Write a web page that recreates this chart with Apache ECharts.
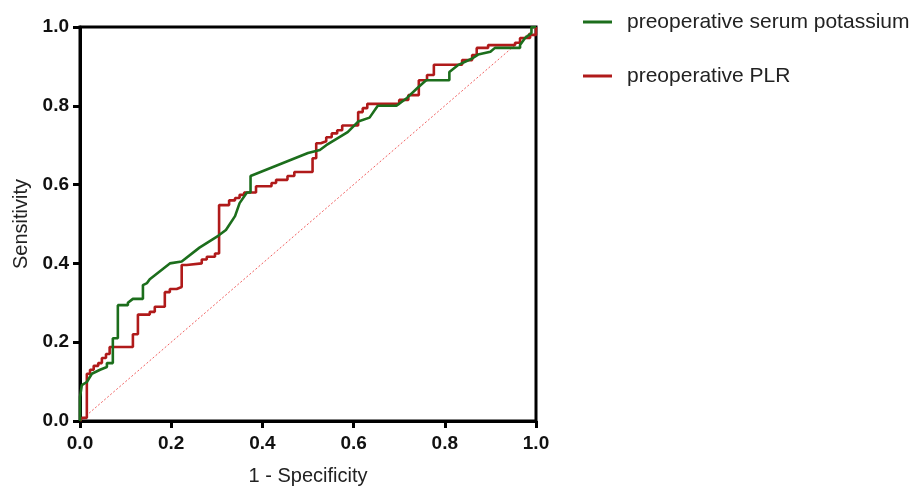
<!DOCTYPE html>
<html>
<head>
<meta charset="utf-8">
<script src="https://cdn.jsdelivr.net/npm/echarts@6/dist/echarts.min.js"></script>
<style>html,body{margin:0;padding:0;background:#fff;}#c{width:919px;height:486px;}</style>
</head>
<body>
<div id="c"></div>
<script>
var xTicks = [0, 0.2, 0.4, 0.6, 0.8, 1.0];
var seriesNames = ['preoperative serum potassium', 'preoperative PLR'];
var potassium = [[0,0],[0,0.061],[0.004,0.061],[0.004,0.091],[0.015,0.099],[0.026,0.12],[0.044,0.13],[0.059,0.137],[0.059,0.147],[0.072,0.147],[0.072,0.21],[0.083,0.21],[0.083,0.294],[0.105,0.294],[0.105,0.30],[0.116,0.31],[0.138,0.31],[0.138,0.345],[0.147,0.35],[0.153,0.36],[0.197,0.40],[0.223,0.405],[0.262,0.44],[0.303,0.47],[0.32,0.485],[0.34,0.52],[0.35,0.553],[0.366,0.58],[0.374,0.58],[0.374,0.622],[0.50,0.68],[0.526,0.688],[0.54,0.70],[0.587,0.733],[0.61,0.76],[0.635,0.77],[0.653,0.80],[0.694,0.80],[0.717,0.82],[0.74,0.845],[0.759,0.865],[0.81,0.865],[0.81,0.886],[0.83,0.904],[0.86,0.92],[0.873,0.93],[0.9,0.937],[0.91,0.947],[0.965,0.947],[0.965,0.954],[0.976,0.972],[0.99,0.985],[0.99,1.0],[1.0,1.0]];
var plr = [[0,0],[0.004,0.008],[0.015,0.008],[0.015,0.12],[0.022,0.12],[0.022,0.13],[0.03,0.13],[0.03,0.14],[0.04,0.14],[0.04,0.147],[0.048,0.147],[0.048,0.16],[0.057,0.16],[0.057,0.17],[0.065,0.17],[0.065,0.188],[0.116,0.188],[0.116,0.22],[0.127,0.22],[0.127,0.27],[0.153,0.27],[0.153,0.277],[0.164,0.277],[0.164,0.29],[0.186,0.29],[0.186,0.327],[0.197,0.327],[0.197,0.335],[0.212,0.335],[0.212,0.34],[0.223,0.34],[0.223,0.396],[0.234,0.396],[0.234,0.40],[0.267,0.40],[0.267,0.41],[0.278,0.41],[0.278,0.417],[0.296,0.417],[0.296,0.425],[0.305,0.425],[0.305,0.548],[0.327,0.548],[0.327,0.56],[0.34,0.56],[0.34,0.566],[0.35,0.566],[0.35,0.574],[0.36,0.574],[0.36,0.58],[0.386,0.58],[0.386,0.596],[0.42,0.596],[0.42,0.604],[0.43,0.604],[0.43,0.612],[0.455,0.612],[0.455,0.622],[0.47,0.622],[0.47,0.632],[0.51,0.632],[0.51,0.667],[0.518,0.667],[0.518,0.705],[0.528,0.705],[0.528,0.71],[0.54,0.71],[0.54,0.72],[0.552,0.72],[0.552,0.73],[0.564,0.73],[0.564,0.738],[0.575,0.738],[0.575,0.75],[0.61,0.75],[0.61,0.784],[0.62,0.784],[0.62,0.794],[0.63,0.794],[0.63,0.805],[0.70,0.805],[0.70,0.815],[0.72,0.815],[0.72,0.827],[0.743,0.827],[0.743,0.865],[0.761,0.865],[0.761,0.878],[0.776,0.878],[0.776,0.904],[0.838,0.904],[0.838,0.916],[0.86,0.916],[0.86,0.929],[0.87,0.929],[0.87,0.947],[0.895,0.947],[0.895,0.954],[0.954,0.954],[0.954,0.96],[0.965,0.96],[0.965,0.972],[0.987,0.972],[0.987,0.98],[1.0,0.98],[1.0,1.0]];
var reference = [[0,0],[1,1]];

var chart = echarts.init(document.getElementById('c'), null, {renderer: 'canvas'});
var FONT = 'Liberation Sans, Arial, sans-serif';
var tickLabelStyle = {color: '#111', fontFamily: FONT, fontWeight: 'bold', fontSize: 19};
chart.setOption({
  animation: false,
  backgroundColor: '#fff',
  grid: {left: 80, right: 383, top: 27, bottom: 65, show: true, borderColor: '#000', borderWidth: 3,
         backgroundColor: 'transparent', containLabel: false, outerBoundsMode: 'none'},
  legend: {
    orient: 'vertical', left: 583, top: 10, padding: 0, itemWidth: 29, itemHeight: 3, itemGap: 30, icon: 'rect',
    data: seriesNames,
    textStyle: {fontFamily: FONT, fontSize: 21, color: '#222', lineHeight: 24, padding: [0, 0, 0, 10]}
  },
  xAxis: {
    type: 'value', min: 0, max: 1, interval: 0.2,
    name: '1 - Specificity', nameLocation: 'middle', nameGap: 45,
    nameTextStyle: {fontFamily: FONT, fontSize: 20, color: '#222'},
    axisLine: {show: true, lineStyle: {color: '#000', width: 3}},
    axisTick: {show: true, length: 7, lineStyle: {color: '#000', width: 3}},
    axisLabel: Object.assign({margin: 13, formatter: function (v) { return v.toFixed(1); }}, tickLabelStyle),
    splitLine: {show: false}
  },
  yAxis: {
    type: 'value', min: 0, max: 1, interval: 0.2,
    name: 'Sensitivity', nameLocation: 'middle', nameGap: 49,
    nameTextStyle: {fontFamily: FONT, fontSize: 20, color: '#222'},
    axisLine: {show: true, lineStyle: {color: '#000', width: 3}},
    axisTick: {show: true, length: 7, lineStyle: {color: '#000', width: 3}},
    axisLabel: Object.assign({margin: 11, formatter: function (v) { return v.toFixed(1); }}, tickLabelStyle),
    splitLine: {show: false}
  },
  series: [
    {name: 'ref', type: 'line', data: reference, showSymbol: false, silent: true,
     lineStyle: {color: '#f06060', width: 1, type: [2, 2]}, z: 1},
    {name: seriesNames[1], type: 'line', data: plr, showSymbol: false,
     lineStyle: {color: '#b01a1a', width: 2.6}, itemStyle: {color: '#b01a1a'}, z: 2},
    {name: seriesNames[0], type: 'line', data: potassium, showSymbol: false,
     lineStyle: {color: '#1c6e1c', width: 2.6}, itemStyle: {color: '#1c6e1c'}, z: 3}
  ]
});
</script>
</body>
</html>
